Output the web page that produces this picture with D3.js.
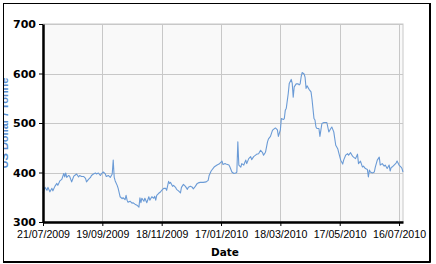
<!DOCTYPE html>
<html>
<head>
<meta charset="utf-8">
<script src="https://cdn.jsdelivr.net/npm/d3@7"></script>
<style>
  body { margin: 0; background: #fff; }
</style>
</head>
<body>
<div id="chart"></div>
<script>
const dates = [
  '2009-07-21', '2009-07-23', '2009-07-25', '2009-07-26', '2009-07-28', '2009-07-30', '2009-07-31',
  '2009-08-02', '2009-08-04', '2009-08-05', '2009-08-07', '2009-08-09', '2009-08-11', '2009-08-12',
  '2009-08-13', '2009-08-14', '2009-08-16', '2009-08-17', '2009-08-19', '2009-08-21', '2009-08-22',
  '2009-08-24', '2009-08-26', '2009-08-27', '2009-08-29', '2009-08-31', '2009-09-02', '2009-09-03',
  '2009-09-05', '2009-09-07', '2009-09-08', '2009-09-10', '2009-09-12', '2009-09-13', '2009-09-15',
  '2009-09-17', '2009-09-18', '2009-09-20', '2009-09-22', '2009-09-23', '2009-09-25', '2009-09-27',
  '2009-09-29', '2009-09-30', '2009-10-01', '2009-10-02', '2009-10-04', '2009-10-05', '2009-10-07',
  '2009-10-09', '2009-10-10', '2009-10-12', '2009-10-13', '2009-10-14', '2009-10-15', '2009-10-17',
  '2009-10-19', '2009-10-20', '2009-10-22', '2009-10-24', '2009-10-26', '2009-10-27', '2009-10-28',
  '2009-10-29', '2009-10-31', '2009-11-01', '2009-11-03', '2009-11-05', '2009-11-06', '2009-11-08',
  '2009-11-10', '2009-11-11', '2009-11-12', '2009-11-13', '2009-11-15', '2009-11-17', '2009-11-18',
  '2009-11-20', '2009-11-22', '2009-11-23', '2009-11-25', '2009-11-26', '2009-11-27', '2009-11-29',
  '2009-11-30', '2009-12-02', '2009-12-03', '2009-12-05', '2009-12-07', '2009-12-08', '2009-12-10',
  '2009-12-12', '2009-12-14', '2009-12-15', '2009-12-17', '2009-12-19', '2009-12-20', '2009-12-22',
  '2009-12-24', '2009-12-25', '2009-12-27', '2009-12-30', '2010-01-02', '2010-01-04', '2010-01-05',
  '2010-01-07', '2010-01-10', '2010-01-13', '2010-01-15', '2010-01-16', '2010-01-18', '2010-01-19',
  '2010-01-21', '2010-01-22', '2010-01-25', '2010-01-26', '2010-01-28', '2010-01-30', '2010-02-01',
  '2010-02-02', '2010-02-03', '2010-02-04', '2010-02-06', '2010-02-07', '2010-02-09', '2010-02-11',
  '2010-02-12', '2010-02-14', '2010-02-16', '2010-02-17', '2010-02-19', '2010-02-21', '2010-02-22',
  '2010-02-24', '2010-02-26', '2010-02-28', '2010-03-01', '2010-03-03', '2010-03-05', '2010-03-06',
  '2010-03-08', '2010-03-10', '2010-03-11', '2010-03-13', '2010-03-15', '2010-03-16', '2010-03-18',
  '2010-03-19', '2010-03-21', '2010-03-22', '2010-03-23', '2010-03-24', '2010-03-26', '2010-03-27',
  '2010-03-29', '2010-03-30', '2010-03-31', '2010-04-01', '2010-04-03', '2010-04-05', '2010-04-06',
  '2010-04-07', '2010-04-08', '2010-04-09', '2010-04-11', '2010-04-12', '2010-04-13', '2010-04-14',
  '2010-04-16', '2010-04-18', '2010-04-19', '2010-04-21', '2010-04-22', '2010-04-23', '2010-04-24',
  '2010-04-26', '2010-04-27', '2010-04-28', '2010-04-29', '2010-05-01', '2010-05-03', '2010-05-04',
  '2010-05-06', '2010-05-08', '2010-05-09', '2010-05-11', '2010-05-13', '2010-05-15', '2010-05-16',
  '2010-05-18', '2010-05-20', '2010-05-21', '2010-05-23', '2010-05-25', '2010-05-26', '2010-05-28',
  '2010-05-30', '2010-05-31', '2010-06-02', '2010-06-04', '2010-06-05', '2010-06-07', '2010-06-09',
  '2010-06-10', '2010-06-12', '2010-06-14', '2010-06-15', '2010-06-16', '2010-06-17', '2010-06-19',
  '2010-06-21', '2010-06-22', '2010-06-24', '2010-06-26', '2010-06-27', '2010-06-29', '2010-07-01',
  '2010-07-02', '2010-07-04', '2010-07-06', '2010-07-07', '2010-07-08', '2010-07-09', '2010-07-11',
  '2010-07-13', '2010-07-14', '2010-07-16', '2010-07-18', '2010-07-19', '2010-07-20'
]

const prices = [
  358, 370, 364, 370, 361, 368, 363,
  372, 378, 374, 383, 386, 398, 391,
  399, 390, 394, 392, 381, 392, 394,
  397, 391, 394, 392, 392, 388, 381,
  386, 390, 394, 397, 399, 397, 399,
  394, 397, 401, 397, 392, 394, 390,
  397, 425, 390, 383, 374, 368, 351,
  347, 349, 345, 354, 344, 340, 342,
  338, 339, 336, 334, 330, 349, 339,
  348, 342, 348, 339, 351, 344, 351,
  348, 352, 344, 354, 358, 361, 364,
  368, 368, 364, 382, 378, 380, 372,
  374, 370, 366, 363, 359, 370, 376,
  372, 366, 370, 372, 370, 367, 372,
  378, 379, 380, 380, 381, 384, 394,
  403, 411, 415, 417, 419, 423, 416,
  418, 417, 415, 411, 401, 398, 399,
  401, 462, 415, 411, 418, 415, 425,
  418, 428, 432, 426, 432, 435, 437,
  438, 445, 440, 435, 441, 462, 468,
  473, 485, 487, 490, 486, 473, 486,
  509, 507, 509, 526, 530, 560, 580,
  588, 580, 552, 573, 579, 579, 577,
  579, 593, 602, 599, 592, 570, 575,
  568, 563, 548, 509, 506, 492, 489,
  489, 473, 486, 499, 501, 501, 501,
  482, 489, 492, 482, 455, 448, 440,
  425, 417, 425, 435, 438, 435, 440,
  433, 431, 428, 437, 418, 423, 411,
  413, 408, 406, 391, 405, 401, 399,
  401, 411, 425, 431, 415, 418, 413,
  415, 408, 415, 403, 410, 411, 415,
  419, 423, 415, 411, 408, 401
]

const yTicks = [300, 400, 500, 600, 700]
const xTickLabels = ['21/07/2009', '19/09/2009', '18/11/2009', '17/01/2010', '18/03/2010', '17/05/2010', '16/07/2010']
const xDomain = ['2009-07-21', '2010-07-20']

const width = 436
const height = 264
const plot = { left: 43, right: 403, top: 24, bottom: 222 }

const parseDate = d3.utcParse('%Y-%m-%d')
const parseTick = d3.utcParse('%d/%m/%Y')
const fmtTick = d3.utcFormat('%d/%m/%Y')

const data = dates.map((d, i) => ({ date: parseDate(d), value: prices[i] }))

const x = d3.scaleUtc()
  .domain(xDomain.map(parseDate))
  .range([plot.left, plot.right])

const y = d3.scaleLinear()
  .domain([300, 700])
  .range([plot.bottom, plot.top])

const svg = d3.select('#chart')
  .append('svg')
  .attr('width', width)
  .attr('height', height)

// plot background
svg.append('rect')
  .attr('x', plot.left)
  .attr('y', plot.top)
  .attr('width', plot.right - plot.left)
  .attr('height', plot.bottom - plot.top)
  .attr('fill', '#f9f9f9')
  .attr('stroke', '#c8c8c8')
  .attr('stroke-width', 1)

// grid
svg.append('g')
  .selectAll('line')
  .data(yTicks)
  .enter()
  .append('line')
  .attr('x1', plot.left)
  .attr('x2', plot.right)
  .attr('y1', d => Math.round(y(d)) + 0.5)
  .attr('y2', d => Math.round(y(d)) + 0.5)
  .attr('stroke', '#c8c8c8')

svg.append('g')
  .selectAll('line')
  .data(xTickLabels.map(parseTick))
  .enter()
  .append('line')
  .attr('x1', d => Math.round(x(d)) + 0.5)
  .attr('x2', d => Math.round(x(d)) + 0.5)
  .attr('y1', plot.top)
  .attr('y2', plot.bottom)
  .attr('stroke', '#c8c8c8')

// series
const line = d3.line()
  .x(d => x(d.date))
  .y(d => y(d.value))

svg.append('path')
  .datum(data)
  .attr('d', line)
  .attr('fill', 'none')
  .attr('stroke', '#6b9bd6')
  .attr('stroke-width', 1.1)
  .attr('stroke-linejoin', 'round')

// axes
const yAxis = d3.axisLeft(y)
  .tickValues(yTicks)
  .tickSizeInner(4)
  .tickSizeOuter(0)
  .tickPadding(3)

const xAxis = d3.axisBottom(x)
  .tickValues(xTickLabels.map(parseTick))
  .tickFormat(fmtTick)
  .tickSizeInner(4)
  .tickSizeOuter(0)
  .tickPadding(4)

const gy = svg.append('g')
  .attr('transform', `translate(${plot.left}, 0)`)
  .call(yAxis)
gy.select('.domain').attr('stroke-width', 2.5).attr('stroke', '#000')
gy.selectAll('line').attr('stroke', '#000')
gy.selectAll('text')
  .attr('font-family', 'DejaVu Sans, Verdana, sans-serif')
  .attr('font-weight', 'bold')
  .attr('font-size', 11)
  .attr('fill', '#000')

const gx = svg.append('g')
  .attr('transform', `translate(0, ${plot.bottom})`)
  .call(xAxis)
gx.select('.domain').attr('stroke-width', 2.5).attr('stroke', '#000')
gx.selectAll('line').attr('stroke', '#000')
gx.selectAll('text')
  .attr('font-family', 'Liberation Sans, Arial, sans-serif')
  .attr('font-size', 10.6)
  .attr('fill', '#000')

// titles
svg.append('text')
  .text('Date')
  .attr('x', 225)
  .attr('y', 256)
  .attr('text-anchor', 'middle')
  .attr('font-family', 'DejaVu Sans, Verdana, sans-serif')
  .attr('font-weight', 'bold')
  .attr('font-size', 10.5)
  .attr('fill', '#000')

svg.append('clipPath')
  .attr('id', 'frame')
  .append('rect')
  .attr('x', 4)
  .attr('y', 4)
  .attr('width', 425)
  .attr('height', 257)

svg.append('g')
  .attr('clip-path', 'url(#frame)')
  .append('text')
  .text('US Dollar / Tonne')
  .attr('transform', `translate(8, ${(plot.top + plot.bottom) / 2}) rotate(-90)`)
  .attr('text-anchor', 'middle')
  .attr('font-family', 'Liberation Sans, Arial, sans-serif')
  .attr('font-weight', 'bold')
  .attr('font-size', 11)
  .attr('fill', '#5b8fd0')

// outer frame, a bit heavier on the right and bottom
svg.append('rect')
  .attr('x', 3.5)
  .attr('y', 3.5)
  .attr('width', 426)
  .attr('height', 258)
  .attr('fill', 'none')
  .attr('stroke', '#000')
  .attr('stroke-width', 1)

svg.append('path')
  .attr('d', 'M430.5,3 V262.5 H3')
  .attr('fill', 'none')
  .attr('stroke', '#000')
  .attr('stroke-width', 1)
</script>
</body>
</html>
